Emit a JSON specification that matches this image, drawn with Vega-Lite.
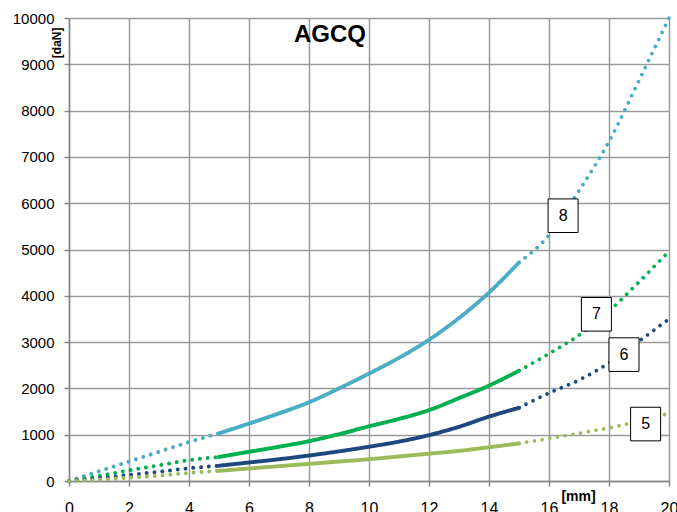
{
  "$schema": "https://vega.github.io/schema/vega-lite/v6.json",
  "width": 600,
  "height": 463,
  "autosize": "none",
  "padding": {"left": 69, "top": 18, "right": 8, "bottom": 31},
  "background": "white",
  "config": {
    "view": {"stroke": null},
    "axis": {
      "labelFont": "Liberation Sans",
      "labelFontSize": 15,
      "labelColor": "#000000",
      "domainColor": "#868686",
      "domainWidth": 1.5,
      "tickColor": "#868686",
      "tickSize": 5,
      "tickWidth": 1.5,
      "gridWidth": 1.5,
      "labelFlush": false,
      "titleFont": "Liberation Sans",
      "titleFontWeight": "bold",
      "titleColor": "#000000"
    }
  },
  "datasets": {
    "curves": [
      {"s": "8", "seg": "a", "x": 0, "y": 0}, {"s": "8", "seg": "a", "x": 1, "y": 210}, {"s": "8", "seg": "a", "x": 2, "y": 420}, {"s": "8", "seg": "a", "x": 3, "y": 630}, {"s": "8", "seg": "a", "x": 4, "y": 840}, {"s": "8", "seg": "a", "x": 5, "y": 1030},
      {"s": "8", "seg": "b", "x": 5, "y": 1030}, {"s": "8", "seg": "b", "x": 6, "y": 1240}, {"s": "8", "seg": "b", "x": 7, "y": 1460}, {"s": "8", "seg": "b", "x": 8, "y": 1700}, {"s": "8", "seg": "b", "x": 9, "y": 2000}, {"s": "8", "seg": "b", "x": 10, "y": 2320}, {"s": "8", "seg": "b", "x": 11, "y": 2660}, {"s": "8", "seg": "b", "x": 12, "y": 3050}, {"s": "8", "seg": "b", "x": 13, "y": 3520}, {"s": "8", "seg": "b", "x": 14, "y": 4070}, {"s": "8", "seg": "b", "x": 15, "y": 4720},
      {"s": "8", "seg": "c", "x": 15, "y": 4720}, {"s": "8", "seg": "c", "x": 16, "y": 5310}, {"s": "8", "seg": "c", "x": 17, "y": 6270}, {"s": "8", "seg": "c", "x": 18, "y": 7330}, {"s": "8", "seg": "c", "x": 19, "y": 8650}, {"s": "8", "seg": "c", "x": 20, "y": 10000},
      {"s": "7", "seg": "a", "x": 0, "y": 0}, {"s": "7", "seg": "a", "x": 1, "y": 110}, {"s": "7", "seg": "a", "x": 2, "y": 230}, {"s": "7", "seg": "a", "x": 3, "y": 340}, {"s": "7", "seg": "a", "x": 4, "y": 450}, {"s": "7", "seg": "a", "x": 5, "y": 520},
      {"s": "7", "seg": "b", "x": 5, "y": 520}, {"s": "7", "seg": "b", "x": 6, "y": 630}, {"s": "7", "seg": "b", "x": 7, "y": 740}, {"s": "7", "seg": "b", "x": 8, "y": 860}, {"s": "7", "seg": "b", "x": 9, "y": 1010}, {"s": "7", "seg": "b", "x": 10, "y": 1180}, {"s": "7", "seg": "b", "x": 11, "y": 1340}, {"s": "7", "seg": "b", "x": 12, "y": 1530}, {"s": "7", "seg": "b", "x": 13, "y": 1790}, {"s": "7", "seg": "b", "x": 14, "y": 2060}, {"s": "7", "seg": "b", "x": 15, "y": 2380},
      {"s": "7", "seg": "c", "x": 15, "y": 2380}, {"s": "7", "seg": "c", "x": 16, "y": 2750}, {"s": "7", "seg": "c", "x": 17, "y": 3150}, {"s": "7", "seg": "c", "x": 18, "y": 3670}, {"s": "7", "seg": "c", "x": 19, "y": 4300}, {"s": "7", "seg": "c", "x": 20, "y": 4960},
      {"s": "6", "seg": "a", "x": 0, "y": 0}, {"s": "6", "seg": "a", "x": 1, "y": 60}, {"s": "6", "seg": "a", "x": 2, "y": 130}, {"s": "6", "seg": "a", "x": 3, "y": 200}, {"s": "6", "seg": "a", "x": 4, "y": 275}, {"s": "6", "seg": "a", "x": 5, "y": 330},
      {"s": "6", "seg": "b", "x": 5, "y": 330}, {"s": "6", "seg": "b", "x": 6, "y": 400}, {"s": "6", "seg": "b", "x": 7, "y": 470}, {"s": "6", "seg": "b", "x": 8, "y": 550}, {"s": "6", "seg": "b", "x": 9, "y": 640}, {"s": "6", "seg": "b", "x": 10, "y": 740}, {"s": "6", "seg": "b", "x": 11, "y": 850}, {"s": "6", "seg": "b", "x": 12, "y": 990}, {"s": "6", "seg": "b", "x": 13, "y": 1170}, {"s": "6", "seg": "b", "x": 14, "y": 1390}, {"s": "6", "seg": "b", "x": 15, "y": 1580},
      {"s": "6", "seg": "c", "x": 15, "y": 1580}, {"s": "6", "seg": "c", "x": 16, "y": 1900}, {"s": "6", "seg": "c", "x": 17, "y": 2180}, {"s": "6", "seg": "c", "x": 18, "y": 2550}, {"s": "6", "seg": "c", "x": 19, "y": 3020}, {"s": "6", "seg": "c", "x": 20, "y": 3500},
      {"s": "5", "seg": "a", "x": 0, "y": 0}, {"s": "5", "seg": "a", "x": 1, "y": 30}, {"s": "5", "seg": "a", "x": 2, "y": 70}, {"s": "5", "seg": "a", "x": 3, "y": 115}, {"s": "5", "seg": "a", "x": 4, "y": 175}, {"s": "5", "seg": "a", "x": 5, "y": 220},
      {"s": "5", "seg": "b", "x": 5, "y": 220}, {"s": "5", "seg": "b", "x": 6, "y": 270}, {"s": "5", "seg": "b", "x": 7, "y": 320}, {"s": "5", "seg": "b", "x": 8, "y": 370}, {"s": "5", "seg": "b", "x": 9, "y": 420}, {"s": "5", "seg": "b", "x": 10, "y": 470}, {"s": "5", "seg": "b", "x": 11, "y": 530}, {"s": "5", "seg": "b", "x": 12, "y": 590}, {"s": "5", "seg": "b", "x": 13, "y": 650}, {"s": "5", "seg": "b", "x": 14, "y": 730}, {"s": "5", "seg": "b", "x": 15, "y": 810},
      {"s": "5", "seg": "c", "x": 15, "y": 810}, {"s": "5", "seg": "c", "x": 16, "y": 920}, {"s": "5", "seg": "c", "x": 17, "y": 1030}, {"s": "5", "seg": "c", "x": 18, "y": 1150}, {"s": "5", "seg": "c", "x": 19, "y": 1290}, {"s": "5", "seg": "c", "x": 20, "y": 1460}
    ],
    "labels": [
      {"label": "8", "x": 16.47, "y": 5730},
      {"label": "7", "x": 17.58, "y": 3600},
      {"label": "6", "x": 18.5, "y": 2730},
      {"label": "5", "x": 19.22, "y": 1230}
    ],
    "title": [
      {"text": "AGCQ", "x": 8.7, "y": 9630}
    ]
  },
  "layer": [
    {
      "data": {"name": "curves"},
      "mark": {"type": "line", "interpolate": "monotone", "strokeCap": "round", "clip": false},
      "encoding": {
        "x": {
          "field": "x", "type": "quantitative",
          "scale": {"domain": [0, 20], "nice": false},
          "axis": {
            "values": [0,1,2,3,4,5,6,7,8,9,10,11,12,13,14,15,16,17,18,19,20],
            "labelExpr": "datum.value % 2 === 0 ? datum.label : ''",
            "labelPadding": 14,
            "labelBaseline": "top",
            "labelFontSize": 16,
            "gridColor": {"condition": {"test": "datum.value % 2 === 0", "value": "#9a9a9a"}, "value": "#d0d0d0"},
            "title": "[mm]",
            "titleFontSize": 14,
            "titleX": 509,
            "titleY": 19,
            "titleAlign": "center",
            "titleBaseline": "alphabetic"
          }
        },
        "y": {
          "field": "y", "type": "quantitative",
          "scale": {"domain": [0, 10000], "nice": false},
          "axis": {
            "values": [0,1000,2000,3000,4000,5000,6000,7000,8000,9000,10000],
            "format": "d",
            "labelPadding": 10,
            "gridColor": "#9a9a9a",
            "title": "[daN]",
            "titleFontSize": 12,
            "titleAngle": 270,
            "titleX": -13,
            "titleY": 9,
            "titleAlign": "right",
            "titleBaseline": "middle"
          }
        },
        "color": {
          "field": "s", "type": "nominal",
          "scale": {"domain": ["8", "7", "6", "5"], "range": ["#4BACC6", "#00B050", "#1F497D", "#9BBB59"]},
          "legend": null
        },
        "detail": {"field": "seg"},
        "strokeDash": {
          "field": "seg", "type": "nominal",
          "scale": {"domain": ["a", "b", "c"], "range": [[0.01, 7.8], [1, 0], [0.01, 7.8]]},
          "legend": null
        },
        "strokeWidth": {
          "field": "seg", "type": "nominal",
          "scale": {"domain": ["a", "b", "c"], "range": [4, 3.75, 4]},
          "legend": null
        }
      }
    },
    {
      "data": {"name": "labels"},
      "mark": {"type": "point", "shape": "M-1,-1.12H1V1.12H-1Z", "size": 900, "filled": true, "fill": "white", "stroke": "black", "strokeWidth": 1, "opacity": 1},
      "encoding": {
        "x": {"field": "x", "type": "quantitative"},
        "y": {"field": "y", "type": "quantitative"}
      }
    },
    {
      "data": {"name": "labels"},
      "mark": {"type": "text", "font": "Liberation Sans", "fontSize": 16, "color": "black", "align": "center", "baseline": "middle"},
      "encoding": {
        "x": {"field": "x", "type": "quantitative"},
        "y": {"field": "y", "type": "quantitative"},
        "text": {"field": "label"}
      }
    },
    {
      "data": {"name": "title"},
      "mark": {"type": "text", "font": "Liberation Sans", "fontSize": 24, "fontWeight": "bold", "color": "black", "align": "center", "baseline": "middle"},
      "encoding": {
        "x": {"field": "x", "type": "quantitative"},
        "y": {"field": "y", "type": "quantitative"},
        "text": {"field": "text"}
      }
    }
  ]
}
